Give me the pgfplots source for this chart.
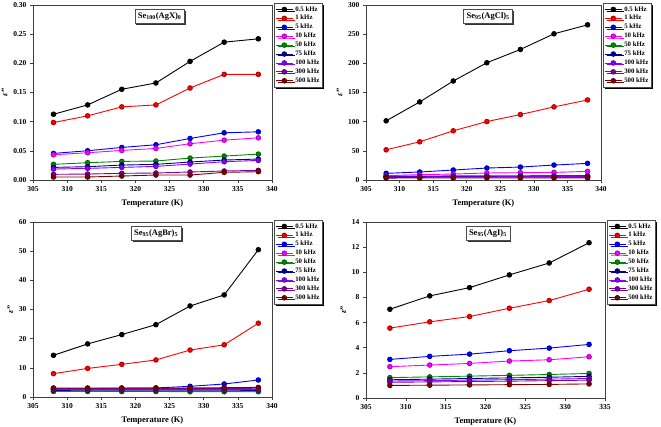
\documentclass[border=0pt]{standalone}
\usepackage{fontspec}
\setmainfont{Liberation Serif}
\usepackage{pgfplots}
\usepackage{pgfplotstable}
\pgfplotsset{compat=1.18}
\usetikzlibrary{shadows}

\definecolor{c05}{RGB}{0,0,0}
\definecolor{c1}{RGB}{255,0,0}
\definecolor{c5}{RGB}{0,0,255}
\definecolor{c10}{RGB}{255,0,255}
\definecolor{c50}{RGB}{0,140,0}
\definecolor{c75}{RGB}{0,0,150}
\definecolor{c100}{RGB}{140,0,255}
\definecolor{c300}{RGB}{128,0,160}
\definecolor{c500}{RGB}{128,0,0}

\pgfplotstableread{
T f05 f1 f5 f10 f50 f75 f100 f300 f500
308 0.1127 0.0985 0.0456 0.0433 0.0268 0.0216 0.0188 0.0097 0.0051
313 0.1287 0.1100 0.0501 0.0467 0.0296 0.0228 0.0199 0.0102 0.0051
318 0.1555 0.1253 0.0558 0.0507 0.0319 0.0256 0.0216 0.0114 0.0068
323 0.1663 0.1287 0.0604 0.0541 0.0325 0.0268 0.0233 0.0120 0.0085
328 0.2033 0.1577 0.0712 0.0621 0.0376 0.0308 0.0273 0.0137 0.0085
333 0.2363 0.1811 0.0809 0.0683 0.0410 0.0342 0.0313 0.0154 0.0131
338 0.2420 0.1811 0.0826 0.0723 0.0444 0.0359 0.0336 0.0165 0.0142
}\tabA
\pgfplotstableread{
T f05 f1 f5 f10 f50 f75 f100 f300 f500
308 101.4 51.8 11.4 7.4 6.5 5.8 5.2 4.5 3.3
313 133.8 65.5 13.7 9.1 6.8 6.0 5.4 4.6 3.4
318 169.7 84.3 17.1 10.2 7.0 6.1 5.5 4.7 3.4
323 201.0 100.2 20.5 12.0 7.2 6.3 5.6 4.7 3.5
328 223.8 112.2 22.2 12.5 7.3 6.4 5.7 4.8 3.5
333 250.6 125.3 25.6 13.0 7.5 6.5 5.8 4.8 3.5
338 266.0 137.2 28.5 14.8 7.6 6.6 5.9 4.9 3.6
}\tabB
\pgfplotstableread{
T f05 f1 f5 f10 f50 f75 f100 f300 f500
308 14.3 8.0 2.8 1.9 2.0 2.4 2.6 2.9 3.1
313 18.2 9.8 2.9 1.9 2.0 2.4 2.6 2.9 3.1
318 21.4 11.2 3.0 1.9 1.9 2.4 2.6 2.9 3.1
323 24.8 12.7 3.1 1.9 1.9 2.4 2.6 2.9 3.1
328 31.2 16.1 3.66 1.9 1.8 2.4 2.6 2.9 3.1
333 35.0 17.9 4.46 1.9 1.8 2.4 2.6 2.9 3.2
338 50.5 25.3 5.83 2.0 1.8 2.4 2.6 3.0 3.3
}\tabC
\pgfplotstableread{
T f05 f1 f5 f10 f50 f75 f100 f300 f500
308 7.06 5.56 3.07 2.49 1.62 1.45 1.35 1.25 1.00
313 8.12 6.06 3.31 2.62 1.68 1.50 1.38 1.28 1.02
318 8.78 6.48 3.49 2.75 1.74 1.55 1.42 1.31 1.04
323 9.79 7.14 3.76 2.94 1.80 1.60 1.46 1.34 1.06
328 10.74 7.75 3.97 3.04 1.87 1.65 1.50 1.38 1.08
333 12.35 8.65 4.26 3.28 1.95 1.72 1.55 1.42 1.12
}\tabD

\pgfplotsset{
  panel/.style={
    scale only axis, width=239pt, height=175pt,
    xmin=305, xmax=340, xtick={305,310,...,340},
    tick align=outside, xtick pos=left, ytick pos=left,
    major tick length=3pt,
    axis line style={black!75, line width=0.8pt},
    tick style={black!75, line width=0.6pt},
    ticklabel style={font=\fontsize{7.5}{8}\selectfont\bfseries},
    /pgf/number format/assume math mode=true,
    xlabel={Temperature (K)},
    ylabel={\itshape ε\/\upshape''},
    label style={font=\fontsize{8.5}{9}\selectfont\bfseries},
    xlabel style={yshift=-1pt},
    ylabel style={yshift=-1pt},
    legend style={at={(1.008,1.012)}, anchor=north west,
      draw=black!70, fill=white, line width=0.5pt,
      font=\fontsize{6.8}{7}\selectfont\bfseries,
      inner sep=1.2pt, row sep=-1.3pt,
      drop shadow={shadow xshift=1.8pt, shadow yshift=-1.8pt, fill=black, opacity=1}},
    legend cell align=left,
    every axis plot/.append style={line width=0.9pt, mark=*, mark size=2.3pt},
  },
  s05/.style={color=c05, mark options={ball color=c05!70!white, draw=c05}},
  s1/.style={color=c1, mark options={ball color=c1, draw=c1!70!black}},
  s5/.style={color=c5, mark options={ball color=c5, draw=c5!70!black}},
  s10/.style={color=c10, mark options={ball color=c10, draw=c10!70!black}},
  s50/.style={color=c50, mark options={ball color=c50, draw=c50!70!black}},
  s75/.style={color=c75, mark options={ball color=c75, draw=c75!70!black}},
  s100/.style={color=c100, mark options={ball color=c100, draw=c100!70!black}},
  s300/.style={color=c300, mark options={ball color=c300, draw=c300!70!black}},
  s500/.style={color=c500, mark options={ball color=c500, draw=c500!70!black}},
}

\newcommand{\allplots}[1]{%
  \addplot[s05] table[x=T,y=f05] {#1};
  \addplot[s1] table[x=T,y=f1] {#1};
  \addplot[s5] table[x=T,y=f5] {#1};
  \addplot[s10] table[x=T,y=f10] {#1};
  \addplot[s50] table[x=T,y=f50] {#1};
  \addplot[s75] table[x=T,y=f75] {#1};
  \addplot[s100] table[x=T,y=f100] {#1};
  \addplot[s300] table[x=T,y=f300] {#1};
  \addplot[s500] table[x=T,y=f500] {#1};
  \legend{0.5 kHz,1 kHz,5 kHz,10 kHz,50 kHz,75 kHz,100 kHz,300 kHz,500 kHz}
}
\newcommand{\titlebox}[2]{%
  \node[draw=black!70, fill=white, line width=0.5pt, inner sep=3pt,
    font=\fontsize{8.5}{9}\selectfont\bfseries,
    drop shadow={shadow xshift=1.5pt, shadow yshift=-1.5pt, fill=black!80, opacity=1}]
    at (rel axis cs:#1,0.935) {#2};%
}

\begin{document}
\begin{tikzpicture}
\useasboundingbox (0pt,0pt) rectangle (661pt,427pt);

\begin{axis}[panel, at={(33pt,247pt)}, anchor=south west,
  ymin=0, ymax=0.30, ytick={0,0.05,...,0.30},
  yticklabel style={/pgf/number format/.cd, fixed, fixed zerofill, precision=2}]
  \allplots{\tabA}
  \titlebox{0.53}{Se\textsubscript{100}(AgX)\textsubscript{0}}
\end{axis}

\begin{axis}[panel, width=235pt, at={(366pt,247pt)}, anchor=south west,
  ymin=0, ymax=300, ytick={0,50,...,300}]
  \allplots{\tabB}
  \titlebox{0.52}{Se\textsubscript{95}(AgCl)\textsubscript{5}}
\end{axis}

\begin{axis}[panel, at={(33pt,30pt)}, anchor=south west,
  ymin=0, ymax=60, ytick={0,10,...,60}]
  \allplots{\tabC}
  \titlebox{0.515}{Se\textsubscript{95}(AgBr)\textsubscript{5}}
\end{axis}

\begin{axis}[panel, height=176pt, at={(366pt,29pt)}, anchor=south west,
  xmin=305, xmax=335, xtick={305,310,...,335},
  ymin=0, ymax=14, ytick={0,2,...,14}]
  \allplots{\tabD}
  \titlebox{0.51}{Se\textsubscript{95}(AgI)\textsubscript{5}}
\end{axis}
\end{tikzpicture}
\end{document}
